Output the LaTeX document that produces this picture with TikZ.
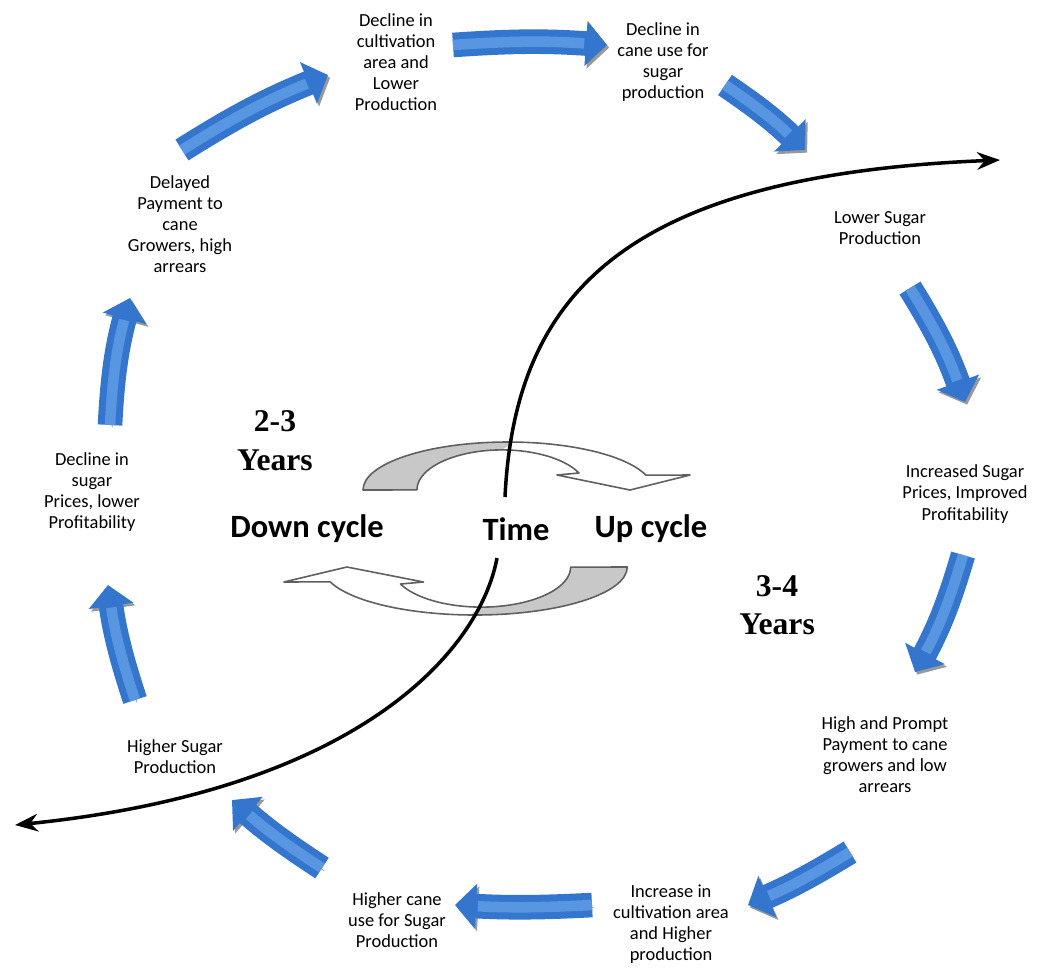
\documentclass[tikz,border=0pt]{standalone}
\usepackage{fontspec}
\setmainfont{Carlito}
\newfontfamily\yearfont{Liberation Serif}
\usepackage{tikz}
\usetikzlibrary{arrows.meta}

\definecolor{flowblue}{RGB}{52,118,205}
\definecolor{flowlight}{RGB}{88,150,225}
\definecolor{bandgray}{RGB}{200,200,200}
\definecolor{bandline}{RGB}{95,95,95}

\tikzset{
  halfturn/.pic={
    \fill[bandgray] (-145,0) arc[start angle=180, end angle=272, x radius=145, y radius=48]
      -- (-6,-40) arc[start angle=270, end angle=180, x radius=85, y radius=40] -- cycle;
    \draw[bandline, line width=0.9pt, line join=round]
      (-145,0) arc[start angle=180, end angle=342, x radius=145, y radius=48]
      -- (182,-15) -- (122,0) -- (49,-15) -- (71,-17)
      arc[start angle=335, end angle=180, x radius=85, y radius=40] -- cycle;
  }
}

\begin{document}
\begin{tikzpicture}[
    x=0.02cm, y=-0.02cm,
    stage/.style={align=center, font=\fontsize{10.5}{12}\selectfont, inner sep=1pt},
    flow/.style={-{Triangle[width=25pt, length=12pt]}, line width=14pt, draw=flowblue,
      preaction={draw=black!40, transform canvas={shift={(1.2pt,-1.5pt)}}},
      postaction={draw=flowlight, line width=6pt, -, shorten >=13pt}},
    timeline/.style={-{Stealth[length=13pt, width=10pt]}, line width=2pt},
    cyclelabel/.style={font=\fontsize{18.5}{22}\selectfont\bfseries},
    yearlabel/.style={align=center, font=\yearfont\fontsize{18}{22}\selectfont\bfseries}
  ]
  \useasboundingbox (0,0) rectangle (1043,967);

  % stages of the cycle
  \node[stage] (n1) at (396,62) {Decline in\\cultivation\\area and\\Lower\\Production};
  \node[stage] (n2) at (663,62) {Decline in\\cane use for\\sugar\\production};
  \node[stage] (n3) at (880,228) {Lower Sugar\\Production};
  \node[stage] (n4) at (965,494) {Increased Sugar\\Prices, Improved\\Profitability};
  \node[stage] (n5) at (885,755) {High and Prompt\\Payment to cane\\growers and low\\arrears};
  \node[stage] (n6) at (671,924) {Increase in\\cultivation area\\and Higher\\production};
  \node[stage] (n7) at (397,920) {Higher cane\\use for Sugar\\Production};
  \node[stage] (n8) at (175,757) {Higher Sugar\\Production};
  \node[stage] (n9) at (92,492) {Decline in\\sugar\\Prices, lower\\Profitability};
  \node[stage] (n10) at (180,224) {Delayed\\Payment to\\cane\\Growers, high\\arrears};

  % centre
  \node[yearlabel] (down) at (275,441) {2-3\\Years};
  \node[yearlabel] (up) at (777,605) {3-4\\Years};
  \node[cyclelabel] (dc) at (307,529) {Down cycle};
  \node[cyclelabel] (time) at (516,529) {Time};
  \node[cyclelabel] (uc) at (651,529) {Up cycle};

  \pic at (508,490) {halfturn};
  \pic[xscale=-1.05, yscale=-1] at (475,567) {halfturn};

  \coordinate (fut) at (1000,160);
  \coordinate (past) at (15,825);
  \draw[timeline] ([shift={(-11,-32)}]time.center) .. controls (515,290) and (630,175) .. (fut);
  \draw[timeline] ([shift={(-19,29)}]time.center) .. controls (480,650) and (360,790) .. (past);

  % the cycle
  \draw[flow] ([shift={(57,-17)}]n1.center) to[bend left=4] ([shift={(-56,-17)}]n2.center);
  \draw[flow] ([shift={(62,23)}]n2.center) to[bend left=5] ([shift={(-75,-78)}]n3.center);
  \draw[flow] ([shift={(30,60)}]n3.center) to[bend left=6] ([shift={(0,-92)}]n4.center);
  \draw[flow] ([shift={(-2,61)}]n4.center) to[bend left=6] ([shift={(30,-83)}]n5.center);
  \draw[flow] ([shift={(-35,97)}]n5.center) to[bend left=4] ([shift={(77,-19)}]n6.center);
  \draw[flow] ([shift={(-79,-19)}]n6.center) to[bend left=3] ([shift={(58,-15)}]n7.center);
  \draw[flow] ([shift={(-75,-52)}]n7.center) to[bend left=4] ([shift={(57,43)}]n8.center);
  \draw[flow] ([shift={(-40,-57)}]n8.center) to[bend left=5] ([shift={(16,93)}]n9.center);
  \draw[flow] ([shift={(18,-67)}]n9.center) to[bend left=6] ([shift={(-50,74)}]n10.center);
  \draw[flow] ([shift={(2,-74)}]n10.center) to[bend left=5] ([shift={(-68,13)}]n1.center);
\end{tikzpicture}
\end{document}
